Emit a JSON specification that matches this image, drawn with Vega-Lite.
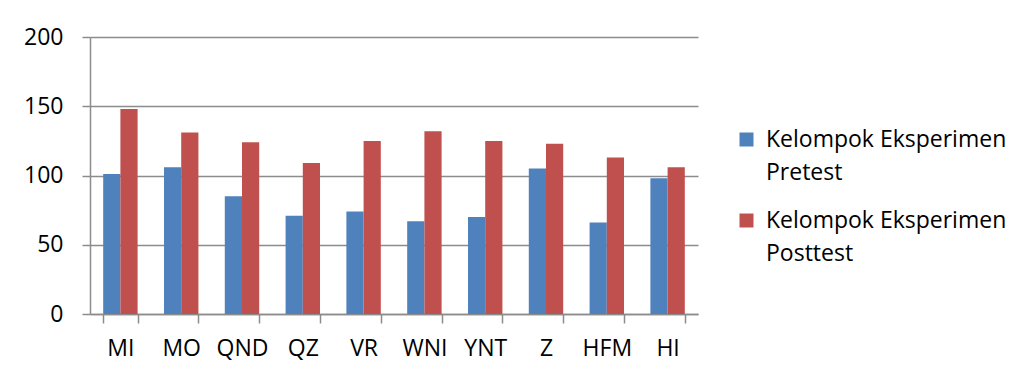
{
  "$schema": "https://vega.github.io/schema/vega-lite/v6.json",
  "width": 608,
  "height": 277,
  "autosize": {"type": "none"},
  "padding": {"left": 90, "top": 37, "right": 321, "bottom": 63},
  "background": "white",
  "data": {
    "values": [
      {"siswa": "MI", "kelompok": "Kelompok Eksperimen Pretest", "nilai": 101},
      {"siswa": "MI", "kelompok": "Kelompok Eksperimen Posttest", "nilai": 148},
      {"siswa": "MO", "kelompok": "Kelompok Eksperimen Pretest", "nilai": 106},
      {"siswa": "MO", "kelompok": "Kelompok Eksperimen Posttest", "nilai": 131},
      {"siswa": "QND", "kelompok": "Kelompok Eksperimen Pretest", "nilai": 85},
      {"siswa": "QND", "kelompok": "Kelompok Eksperimen Posttest", "nilai": 124},
      {"siswa": "QZ", "kelompok": "Kelompok Eksperimen Pretest", "nilai": 71},
      {"siswa": "QZ", "kelompok": "Kelompok Eksperimen Posttest", "nilai": 109},
      {"siswa": "VR", "kelompok": "Kelompok Eksperimen Pretest", "nilai": 74},
      {"siswa": "VR", "kelompok": "Kelompok Eksperimen Posttest", "nilai": 125},
      {"siswa": "WNI", "kelompok": "Kelompok Eksperimen Pretest", "nilai": 67},
      {"siswa": "WNI", "kelompok": "Kelompok Eksperimen Posttest", "nilai": 132},
      {"siswa": "YNT", "kelompok": "Kelompok Eksperimen Pretest", "nilai": 70},
      {"siswa": "YNT", "kelompok": "Kelompok Eksperimen Posttest", "nilai": 125},
      {"siswa": "Z", "kelompok": "Kelompok Eksperimen Pretest", "nilai": 105},
      {"siswa": "Z", "kelompok": "Kelompok Eksperimen Posttest", "nilai": 123},
      {"siswa": "HFM", "kelompok": "Kelompok Eksperimen Pretest", "nilai": 66},
      {"siswa": "HFM", "kelompok": "Kelompok Eksperimen Posttest", "nilai": 113},
      {"siswa": "HI", "kelompok": "Kelompok Eksperimen Pretest", "nilai": 98},
      {"siswa": "HI", "kelompok": "Kelompok Eksperimen Posttest", "nilai": 106}
    ]
  },
  "mark": {"type": "bar"},
  "encoding": {
    "x": {
      "field": "siswa",
      "type": "nominal",
      "sort": null,
      "scale": {"paddingInner": 0.434, "paddingOuter": 0.217},
      "axis": {
        "title": null,
        "labelAngle": 0,
        "tickBand": "extent",
        "tickSize": 9,
        "tickWidth": 1.5,
        "tickColor": "#8c8c8c",
        "domainColor": "#8c8c8c",
        "domainWidth": 1.5,
        "labelPadding": 14,
        "labelFont": "Open Sans",
        "labelFontSize": 23,
        "labelColor": "#000000",
        "grid": false
      }
    },
    "xOffset": {"field": "kelompok", "sort": null},
    "y": {
      "field": "nilai",
      "type": "quantitative",
      "scale": {"domain": [0, 200]},
      "axis": {
        "title": null,
        "values": [0, 50, 100, 150, 200],
        "grid": true,
        "gridColor": "#8c8c8c",
        "gridWidth": 1.5,
        "gridOpacity": 1,
        "tickSize": 8,
        "tickWidth": 1.5,
        "tickColor": "#8c8c8c",
        "domainColor": "#8c8c8c",
        "domainWidth": 1.5,
        "labelPadding": 19,
        "labelFont": "Open Sans",
        "labelFontSize": 23,
        "labelColor": "#000000"
      }
    },
    "color": {
      "field": "kelompok",
      "type": "nominal",
      "sort": null,
      "scale": {
        "domain": ["Kelompok Eksperimen Pretest", "Kelompok Eksperimen Posttest"],
        "range": ["#4F81BD", "#C0504D"]
      },
      "legend": {
        "title": null,
        "orient": "none",
        "legendX": 645,
        "legendY": 91,
        "symbolType": "square",
        "symbolSize": 196,
        "symbolStrokeWidth": 0,
        "labelFont": "Open Sans",
        "labelFontSize": 23,
        "labelColor": "#000000",
        "labelLimit": 0,
        "labelOffset": 8,
        "rowPadding": 24,
        "labelExpr": "[slice(datum.label, 0, 19), slice(datum.label, 20)]"
      }
    }
  },
  "config": {
    "view": {"stroke": null},
    "font": "Open Sans",
    "style": {"guide-label": {"lineHeight": 33}}
  }
}
